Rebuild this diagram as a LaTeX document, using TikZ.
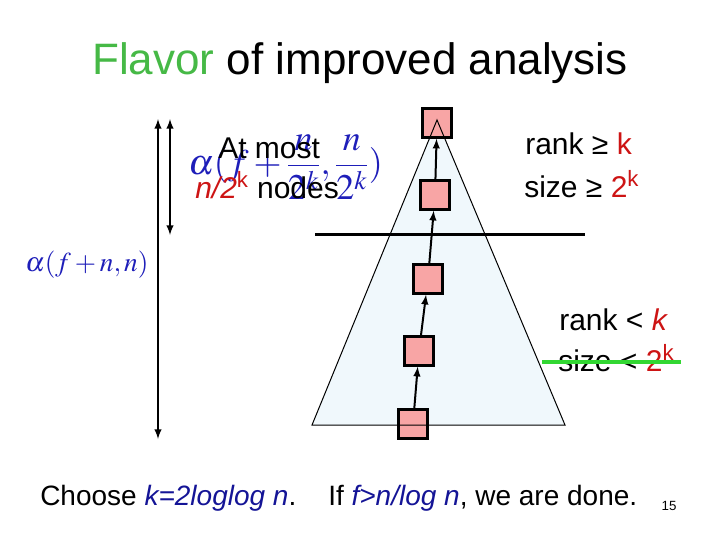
\documentclass[tikz,border=0pt]{standalone}
\usepackage{mathptmx}
\usepackage{fontspec}
\setmainfont{Liberation Sans}
\usepackage{tikz}
\usetikzlibrary{arrows}

\definecolor{flavgreen}{RGB}{70,185,70}
\definecolor{hired}{RGB}{205,20,20}
\definecolor{formblue}{RGB}{30,30,185}
\definecolor{botblue}{RGB}{20,20,150}

\tikzset{
  sq/.style={draw, line width=2, fill={rgb, 255:red, 248; green, 165; blue, 165}, minimum size=21.5, inner sep=0pt},
  lbl/.style={anchor=base west, inner sep=0pt, font=\fontsize{22.5}{27}\selectfont},
}

\begin{document}
\begin{tikzpicture}[x=0.75pt,y=0.75pt,yscale=-1,xscale=1]
\useasboundingbox (0,0) rectangle (720,540);

%Title
\node [anchor=base, inner sep=0pt, font=\fontsize{33}{40}\selectfont] (title) at (360,74) {\textcolor{flavgreen}{Flavor} of improved analysis};

%Shape: Triangle (fill)
\fill [fill={rgb, 255:red, 240; green, 248; blue, 252}] (437,120) -- (565,425) -- (312,425) -- cycle ;
%Straight Lines
\draw [line width=2.25] (315,234) -- (585,234) ;

%Squares of the path
\node [sq] (s1) at (437,123) {};
\node [sq] (s2) at (435,195) {};
\node [sq] (s3) at (428,279) {};
\node [sq] (s4) at (419,351) {};
\node [sq] (s5) at (413,424) {};
%Shape: Triangle (outline, over the squares)
\draw [line width=0.75] (437,120) -- (565,425) -- (312,425) -- cycle ;
\foreach \a/\b in {s5/s4, s4/s3, s3/s2, s2/s1}
  \draw [-latex, line width=1.5] (\a) -- (\b) ;

%Left arrows
\coordinate (longtop) at (158,119);
\coordinate (longbot) at (158,439);
\coordinate (shorttop) at (170,119);
\coordinate (shortbot) at (170,235);
\draw [latex-latex, line width=1.5] (longtop) -- (longbot) ;
\draw [latex-latex, line width=1.5] (shorttop) -- (shortbot) ;

%Formulas
\node [anchor=west, inner sep=0pt, text=formblue, font=\fontsize{27}{32}\selectfont] (amort) at (188,167) {$\displaystyle \alpha(f+\frac{n}{2^k},\frac{n}{2^k})$};
\node [anchor=west, inner sep=0pt, text=formblue, font=\fontsize{20.5}{24}\selectfont] (atotal) at (25,265) {$\alpha(f+n,n)$};

%Labels
\node [lbl] (atmost) at (218,158) {At most};
\node [lbl] (nodes) at (195,198) {\textcolor{hired}{\textit{n/2}\textsuperscript{k}} nodes};
\node [lbl] (rankhi) at (525,154) {rank ≥ \textcolor{hired}{k}};
\node [lbl] (sizehi) at (524,197) {size ≥ \textcolor{hired}{2\textsuperscript{k}}};
\node [lbl] (ranklo) at (559,330) {rank < \textcolor{hired}{\textit{k}}};
\node [lbl] (sizelo) at (558,371) {size < \textcolor{hired}{2\textsuperscript{k}}};
%Strike line
\draw [color={rgb, 255:red, 50; green, 215; blue, 50}, line width=3] (542,362) -- (681,362) ;

%Bottom line
\node [lbl, font=\fontsize{21}{25}\selectfont] (choose) at (40,505) {Choose \textcolor{botblue}{\textit{k=2loglog n}}.};
\node [lbl, font=\fontsize{21}{25}\selectfont] (done) at (328,505) {If \textcolor{botblue}{\textit{f>n/log n}}, we are done.};
\node [anchor=base, inner sep=0pt, font=\fontsize{10}{12}\selectfont] (pgnum) at (669,510) {15};
\end{tikzpicture}
\end{document}
